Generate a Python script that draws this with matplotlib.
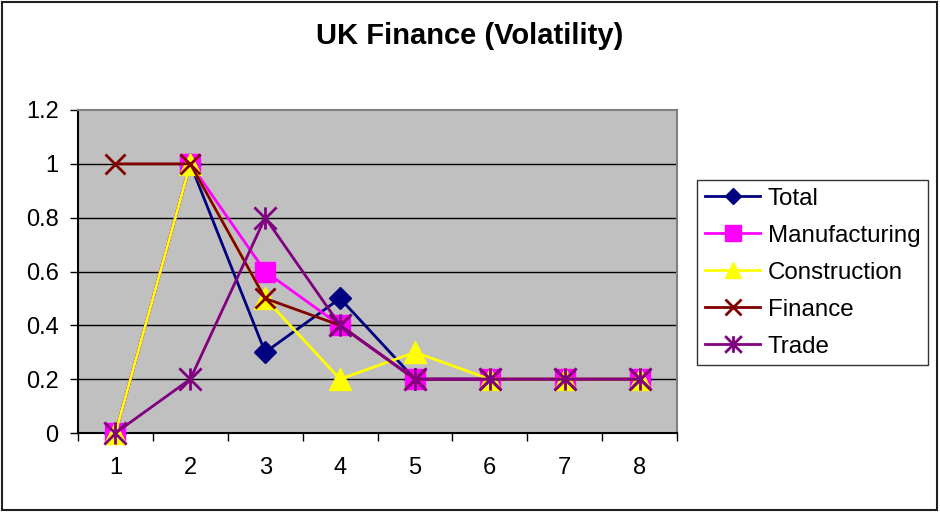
import matplotlib

matplotlib.use("Agg")
import matplotlib.pyplot as plt  # noqa: E402
from matplotlib.path import Path  # noqa: E402
from matplotlib.patches import Rectangle  # noqa: E402

plt.rcParams["font.family"] = ["Liberation Sans", "DejaVu Sans"]

# data
PERIODS = [1, 2, 3, 4, 5, 6, 7, 8]
TOTAL = [0, 1, 0.3, 0.5, 0.2, 0.2, 0.2, 0.2]
MANUFACTURING = [0, 1, 0.6, 0.4, 0.2, 0.2, 0.2, 0.2]
CONSTRUCTION = [0, 1, 0.5, 0.2, 0.3, 0.2, 0.2, 0.2]
FINANCE = [1, 1, 0.5, 0.4, 0.2, 0.2, 0.2, 0.2]
TRADE = [0, 0.2, 0.8, 0.4, 0.2, 0.2, 0.2, 0.2]
Y_TICKS = [0, 0.2, 0.4, 0.6, 0.8, 1.0, 1.2]
Y_LABELS = ["0", "0.2", "0.4", "0.6", "0.8", "1", "1.2"]

# excel-style asterisk: vertical bar plus an X
STAR = Path(
    [(0, -1), (0, 1), (-1, -1), (1, 1), (-1, 1), (1, -1)],
    [Path.MOVETO, Path.LINETO, Path.MOVETO, Path.LINETO, Path.MOVETO, Path.LINETO],
)

W, H = 940, 513
fig = plt.figure(figsize=(W / 100, H / 100), dpi=100)
ax = fig.add_axes([78 / W, 1 - 433 / H, (677 - 78) / W, (433 - 110) / H])
ax.set_facecolor("#C0C0C0")

series = [
    ("Total", TOTAL, "#000080", "D", 11, 1.0),
    ("Manufacturing", MANUFACTURING, "#FF00FF", "s", 15, 1.0),
    ("Construction", CONSTRUCTION, "#FFFF00", "^", 16, 1.0),
    ("Finance", FINANCE, "#800000", "x", 15, 2.0),
    ("Trade", TRADE, "#800080", STAR, 16, 2.0),
]
for name, vals, col, mk, ms, mew in series:
    ax.plot(
        PERIODS, vals, color=col, lw=2, marker=mk, ms=ms,
        mfc=col, mec=col, mew=mew, label=name, clip_on=False, zorder=3,
    )

ax.set_xlim(0.5, 8.5)
ax.set_ylim(0, 1.2)
ax.set_yticks(Y_TICKS)
ax.set_yticklabels(Y_LABELS)
ax.set_xticks([p - 0.5 for p in PERIODS] + [8.5])
ax.set_xticklabels([])
ax.set_xticks(PERIODS, minor=True)
ax.set_xticklabels([str(p) for p in PERIODS], minor=True)
ax.tick_params(axis="x", which="major", length=6, width=1, color="black")
ax.tick_params(axis="x", which="minor", length=0, pad=17, labelsize=17)
ax.tick_params(axis="y", length=6, width=1, pad=8, labelsize=17)
for y in Y_TICKS[1:-1]:
    ax.axhline(y, color="black", lw=1, zorder=1)
ax.spines["left"].set_color("black")
ax.spines["bottom"].set_color("black")
ax.spines["top"].set_color("#808080")
ax.spines["right"].set_color("#808080")
for s in ax.spines.values():
    s.set_linewidth(1.5)

fig.text(470 / W, 1 - 36 / H, "UK Finance (Volatility)", ha="center",
         va="center", fontsize=21, fontweight="bold")

leg = fig.legend(
    loc="upper left", bbox_to_anchor=(697 / W, 1 - 180 / H), borderaxespad=0,
    fontsize=17.4, frameon=True, fancybox=False, edgecolor="black",
    handlelength=2.3, labelspacing=0.62, borderpad=0.32, handletextpad=0.3,
    markerscale=0.75,
)
leg.get_frame().set_linewidth(1)

fig.patches.append(Rectangle((2 / W, 3 / H), 935 / W, 508 / H, fill=False,
                             transform=fig.transFigure, lw=1.5,
                             edgecolor="#202020"))

fig.savefig("out.png", dpi=100)
